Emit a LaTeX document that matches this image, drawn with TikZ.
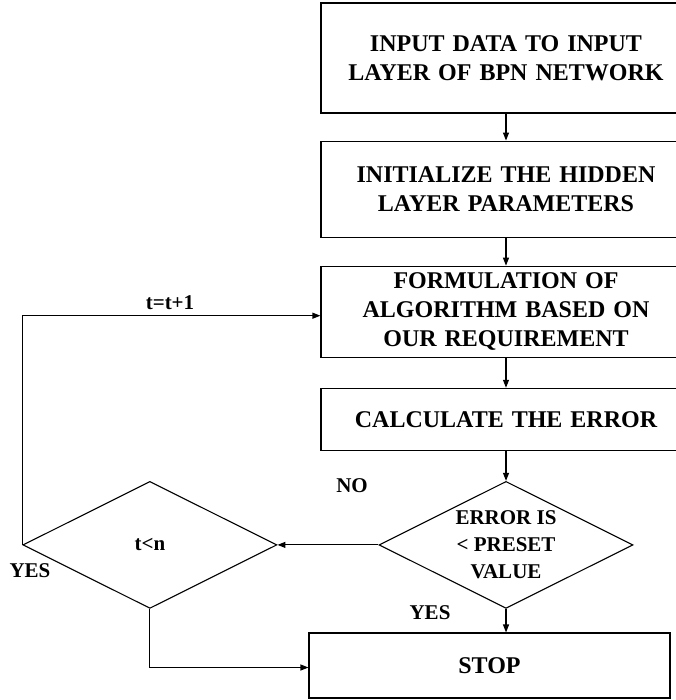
\documentclass[tikz,border=0pt]{standalone}
\usepackage{fontspec}
\setmainfont{Liberation Serif}
\usepackage{tikz}
\usetikzlibrary{arrows.meta,positioning,shapes.geometric}

\begin{document}
\begin{tikzpicture}[
  x=1pt,y=1pt,
  node distance=28pt,
  blk/.style={draw,line width=1.1pt,text width=340pt,inner xsep=15pt,inner ysep=2pt,
    align=center,font=\bfseries\fontsize{24}{29}\selectfont},
  dec/.style={draw,diamond,aspect=2,line width=1.1pt,inner sep=0pt,
    minimum width=254pt,minimum height=127pt,align=center,
    font=\bfseries\fontsize{21}{27}\selectfont},
  lbl/.style={font=\bfseries\fontsize{21}{25}\selectfont},
  a/.style={-{Triangle[length=8pt,width=6pt]},line width=1.1pt}
]
  \useasboundingbox (0,0) rectangle (675,-700);
  \node[blk,minimum height=110pt] (b1) at (506,-58) {INPUT DATA TO INPUT\\LAYER OF BPN NETWORK};
  \node[blk,minimum height=96pt,below=27pt of b1] (b2) {INITIALIZE THE HIDDEN\\LAYER PARAMETERS};
  \node[blk,minimum height=91pt,below=of b2] (b3) {FORMULATION OF\\ALGORITHM BASED ON\\OUR REQUIREMENT};
  \node[blk,minimum height=62pt,below=30pt of b3] (b4) {CALCULATE THE ERROR};
  \node[dec,below=30pt of b4] (d2) {ERROR IS\\{<} PRESET\\VALUE};
  \node[dec,left=101pt of d2] (d1) {t<n};
  \node[draw,line width=1.1pt,minimum width=361pt,minimum height=65pt,
    font=\bfseries\fontsize{24}{29}\selectfont] (stop) at (489.5,-665.5) {STOP};
  \foreach \x/\y in {b1/b2,b2/b3,b3/b4,b4/d2,d2/stop}
    {\draw[a] (\x.south) -- (\x.south |- \y.north);}
  \draw[a] (d2.west) -- (d1.east);
  \draw[a] (d1.west) |- ([yshift=-4pt]b3.west);
  \draw[a] (d1.south) |- ([yshift=-2pt]stop.west);
  \node[lbl] (inc) at (170,-303) {t=t+1};
  \node[lbl] (no) at (352,-486) {NO};
  \node[lbl] (yes1) at (30,-571) {YES};
  \node[lbl] (yes2) at (430,-613) {YES};
\end{tikzpicture}
\end{document}
